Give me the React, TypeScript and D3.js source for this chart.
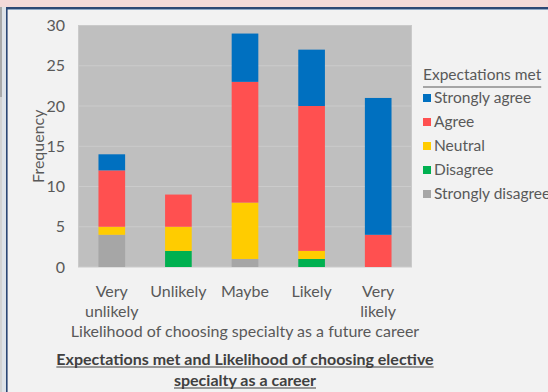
import React, { useEffect, useRef } from "react";
import * as d3 from "d3";

const categories = ["Very unlikely", "Unlikely", "Maybe", "Likely", "Very likely"];
const categoryLines = [["Very", "unlikely"], ["Unlikely"], ["Maybe"], ["Likely"], ["Very", "likely"]];
const seriesNames = ["Strongly disagree", "Disagree", "Neutral", "Agree", "Strongly agree"];
const seriesColors = ["#a6a6a6", "#00b050", "#ffcc00", "#ff5050", "#0070c0"];
const stronglyDisagree = [4, 0, 1, 0, 0];
const disagree = [0, 2, 0, 1, 0];
const neutral = [1, 3, 7, 1, 0];
const agree = [7, 4, 15, 18, 4];
const stronglyAgree = [2, 0, 6, 7, 17];
const yTicks = [0, 5, 10, 15, 20, 25, 30];
const legendOrder = ["Strongly agree", "Agree", "Neutral", "Disagree", "Strongly disagree"];

const W = 548;
const H = 392;
const FONT = "Lato, 'Open Sans', sans-serif";
const AXIS_FS = 16;
const LEGEND_FS = 15.5;

export default function App() {
  const ref = useRef<SVGSVGElement>(null);

  useEffect(() => {
    const svg = d3.select(ref.current);
    svg.selectAll("*").remove();

    // slide frame
    svg.append("rect").attr("width", W).attr("height", H).attr("fill", "#f2f2f2");
    svg.append("rect").attr("width", W).attr("height", 7).attr("fill", "#f2d9d9");
    svg.append("rect").attr("x", 0).attr("y", 7).attr("width", 6).attr("height", H).attr("fill", "#dde2e8");
    svg.append("rect").attr("x", 0).attr("y", 7).attr("width", 2).attr("height", 90).attr("fill", "#a9a9a9");
    svg.append("rect").attr("x", 0).attr("y", 97).attr("width", 2).attr("height", H).attr("fill", "#d2d2d2");
    svg.append("rect").attr("x", 6).attr("y", 7).attr("width", W).attr("height", 2).attr("fill", "#2b4775");
    svg.append("rect").attr("x", 6).attr("y", 9).attr("width", W).attr("height", 1).attr("fill", "#8ea6c4");
    svg.append("rect").attr("x", 6).attr("y", 7).attr("width", 1.6).attr("height", H).attr("fill", "#2b4775");

    const left = 78.5, right = 411.5, top = 25.5, bottom = 267;
    const x = d3.scaleBand().domain(categories).range([left, right]).paddingInner(0.6).paddingOuter(0.3);
    const y = d3.scaleLinear().domain([0, 30]).range([bottom, top]);

    // plot area
    svg.append("rect")
      .attr("x", left).attr("y", top).attr("width", right - left).attr("height", bottom - top)
      .attr("fill", "#bfbfbf").attr("stroke", "#cacaca").attr("stroke-width", 1);
    svg.append("g").selectAll("line").data(yTicks.slice(1, -1)).join("line")
      .attr("x1", left).attr("x2", right)
      .attr("y1", (d) => y(d)).attr("y2", (d) => y(d))
      .attr("stroke", "#cbcbcb").attr("stroke-width", 1);

    // stacked bars
    const rows = categories.map((c, i) => ({
      category: c,
      "Strongly disagree": stronglyDisagree[i],
      Disagree: disagree[i],
      Neutral: neutral[i],
      Agree: agree[i],
      "Strongly agree": stronglyAgree[i],
    }));
    const stacked = d3.stack<any>().keys(seriesNames)(rows);
    const color = d3.scaleOrdinal<string, string>().domain(seriesNames).range(seriesColors);
    svg.append("g").selectAll("g").data(stacked).join("g")
      .attr("fill", (s) => color(s.key))
      .selectAll("rect").data((s) => s).join("rect")
      .attr("x", (d) => x(d.data.category)!)
      .attr("width", x.bandwidth())
      .attr("y", (d) => y(d[1]))
      .attr("height", (d) => y(d[0]) - y(d[1]));

    // y axis labels
    svg.append("g").selectAll("text").data(yTicks).join("text")
      .attr("x", 65).attr("y", (d) => y(d)).attr("dy", "0.35em")
      .attr("text-anchor", "end").attr("font-family", FONT).attr("font-size", AXIS_FS)
      .attr("fill", "#595959").text((d) => d);

    svg.append("text")
      .attr("transform", `translate(38,${(top + bottom) / 2}) rotate(-90)`)
      .attr("dy", "0.35em").attr("text-anchor", "middle")
      .attr("font-family", FONT).attr("font-size", AXIS_FS).attr("fill", "#595959")
      .text("Frequency");

    // x axis labels
    const xl = svg.append("g");
    categories.forEach((c, i) => {
      categoryLines[i].forEach((line, j) => {
        xl.append("text")
          .attr("x", x(c)! + x.bandwidth() / 2).attr("y", 291 + j * 20).attr("dy", "0.35em")
          .attr("text-anchor", "middle").attr("font-family", FONT).attr("font-size", AXIS_FS)
          .attr("fill", "#595959").text(line);
      });
    });
    svg.append("text")
      .attr("x", (left + right) / 2).attr("y", 331).attr("dy", "0.35em")
      .attr("text-anchor", "middle").attr("font-family", FONT).attr("font-size", AXIS_FS)
      .attr("fill", "#595959").text("Likelihood of choosing specialty as a future career");

    // underlined text helper
    const underlined = (tx: number, ty: number, anchor: string, str: string, weight: string, fill: string, off: number, fs: number) => {
      const t = svg.append("text")
        .attr("x", tx).attr("y", ty).attr("dy", "0.35em")
        .attr("text-anchor", anchor).attr("font-family", FONT).attr("font-size", fs)
        .attr("font-weight", weight).attr("fill", fill).text(str);
      const w = (t.node() as SVGTextElement).getComputedTextLength();
      const x0 = anchor === "middle" ? tx - w / 2 : tx;
      svg.append("line").attr("x1", x0).attr("x2", x0 + w)
        .attr("y1", ty + off).attr("y2", ty + off)
        .attr("stroke", fill).attr("stroke-width", 1.2);
    };

    // chart title
    underlined((left + right) / 2, 359, "middle", "Expectations met and Likelihood of choosing elective", "bold", "#404040", 8, AXIS_FS);
    underlined((left + right) / 2, 380, "middle", "specialty as a career", "bold", "#404040", 8, AXIS_FS);

    // legend
    underlined(423, 75, "start", "Expectations met", "normal", "#595959", 12, LEGEND_FS);
    const lg = svg.append("g");
    legendOrder.forEach((name, i) => {
      const ly = 98 + i * 24;
      lg.append("rect").attr("x", 423).attr("y", ly - 4).attr("width", 8).attr("height", 8).attr("fill", color(name));
      lg.append("text").attr("x", 434).attr("y", ly).attr("dy", "0.35em")
        .attr("font-family", FONT).attr("font-size", LEGEND_FS).attr("fill", "#595959").text(name);
    });
  }, []);

  return (
    <div style={{ position: "absolute", left: 0, top: 0 }}>
      <svg ref={ref} width={W} height={H} style={{ display: "block" }} />
    </div>
  );
}
